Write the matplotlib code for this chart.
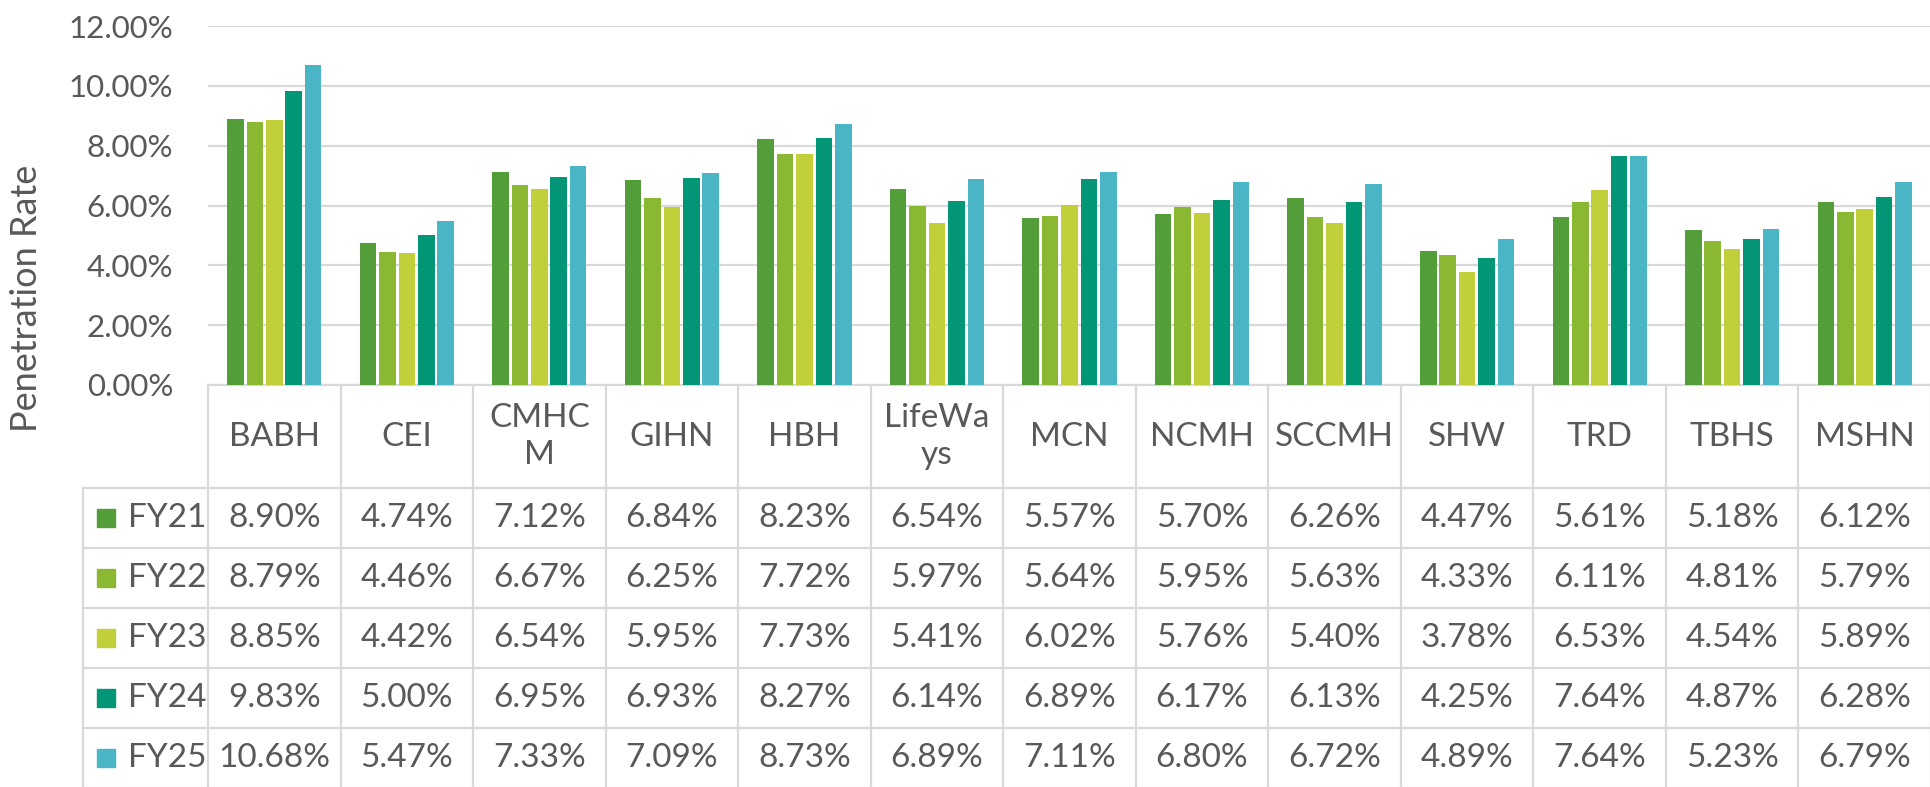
import matplotlib
matplotlib.use('Agg')
import matplotlib.pyplot as plt

# Data
categories = ['BABH', 'CEI', 'CMHC\nM', 'GIHN', 'HBH', 'LifeWa\nys', 'MCN',
              'NCMH', 'SCCMH', 'SHW', 'TRD', 'TBHS', 'MSHN']
series_names = ['FY21', 'FY22', 'FY23', 'FY24', 'FY25']
fy21 = [8.90, 4.74, 7.12, 6.84, 8.23, 6.54, 5.57, 5.70, 6.26, 4.47, 5.61, 5.18, 6.12]
fy22 = [8.79, 4.46, 6.67, 6.25, 7.72, 5.97, 5.64, 5.95, 5.63, 4.33, 6.11, 4.81, 5.79]
fy23 = [8.85, 4.42, 6.54, 5.95, 7.73, 5.41, 6.02, 5.76, 5.40, 3.78, 6.53, 4.54, 5.89]
fy24 = [9.83, 5.00, 6.95, 6.93, 8.27, 6.14, 6.89, 6.17, 6.13, 4.25, 7.64, 4.87, 6.28]
fy25 = [10.68, 5.47, 7.33, 7.09, 8.73, 6.89, 7.11, 6.80, 6.72, 4.89, 7.64, 5.23, 6.79]
series = [fy21, fy22, fy23, fy24, fy25]
colors = ['#549E39', '#8AB833', '#C0CF3A', '#029676', '#4AB5C4']
y_ticks = [0, 2, 4, 6, 8, 10, 12]

plt.rcParams['font.family'] = ['Lato', 'DejaVu Sans']
text_color = '#595959'
line_color = '#D9D9D9'
fs_tick = 22.5
fs_table = 24
fs_title = 26

# Layout (pixels)
W, H = 1931, 787
plot_left, plot_top, plot_bottom = 208, 26, 385
legend_left = 83
header_h, row_h = 103, 60
n = len(categories)
unit = (W - plot_left) / n


def px2x(px):
    return -0.5 + (px - plot_left) / unit


fig = plt.figure(figsize=(W / 100, H / 100), dpi=100)

# Chart area
ax = fig.add_axes([plot_left / W, (H - plot_bottom) / H,
                   (W - plot_left) / W, (plot_bottom - plot_top) / H])
slot = 0.1465
bar_w = 0.125
for i, (vals, c) in enumerate(zip(series, colors)):
    xs = [k + (i - 2) * slot for k in range(n)]
    ax.bar(xs, vals, width=bar_w, color=c, zorder=3)

ax.set_xlim(-0.5, n - 0.5)
ax.set_ylim(0, 12)
ax.set_yticks(y_ticks)
ax.set_yticklabels(['{:.2f}%'.format(t) for t in y_ticks])
ax.tick_params(axis='y', length=0, pad=25, labelsize=fs_tick, labelcolor=text_color)
ax.set_xticks([])
ax.grid(axis='y', color=line_color, linewidth=1.6, zorder=0)
for s in ['top', 'right', 'left']:
    ax.spines[s].set_visible(False)
ax.spines['bottom'].set_color(line_color)
ax.spines['bottom'].set_linewidth(1.6)

fig.text(27 / W, 1 - 298 / H, 'Penetration Rate', rotation=90, ha='center',
         va='center', fontsize=fs_title, color=text_color)

# Data table
tax = fig.add_axes([legend_left / W, 0, (W - legend_left) / W, (H - plot_bottom) / H])
tax.set_xlim(px2x(legend_left), n - 0.5)
tax.set_ylim(H - plot_bottom, 0)
tax.axis('off')

table_bottom = header_h + row_h * len(series) + 5
for k in range(n + 1):
    tax.plot([k - 0.5, k - 0.5], [0, table_bottom], color=line_color, lw=1.6,
             clip_on=False)
tax.plot([px2x(legend_left)] * 2, [header_h, table_bottom], color=line_color,
         lw=1.6, clip_on=False)
for r in range(len(series) + 1):
    y = header_h + r * row_h
    tax.plot([px2x(legend_left), n - 0.5], [y, y], color=line_color, lw=1.6,
             clip_on=False)

for k, cat in enumerate(categories):
    tax.text(k, header_h / 2, cat, ha='center', va='center', fontsize=fs_table,
             color=text_color, linespacing=1.3)

for r, (name, vals, c) in enumerate(zip(series_names, series, colors)):
    yc = header_h + r * row_h + row_h / 2
    tax.plot([px2x(106.5)], [yc], marker='s', markersize=13.5, color=c,
             linestyle='none', clip_on=False)
    tax.text(px2x(128), yc, name, ha='left', va='center', fontsize=fs_table,
             color=text_color)
    for k, v in enumerate(vals):
        tax.text(k, yc, '{:.2f}%'.format(v), ha='center', va='center',
                 fontsize=fs_table, color=text_color)

fig.savefig('out.png', dpi=100)
